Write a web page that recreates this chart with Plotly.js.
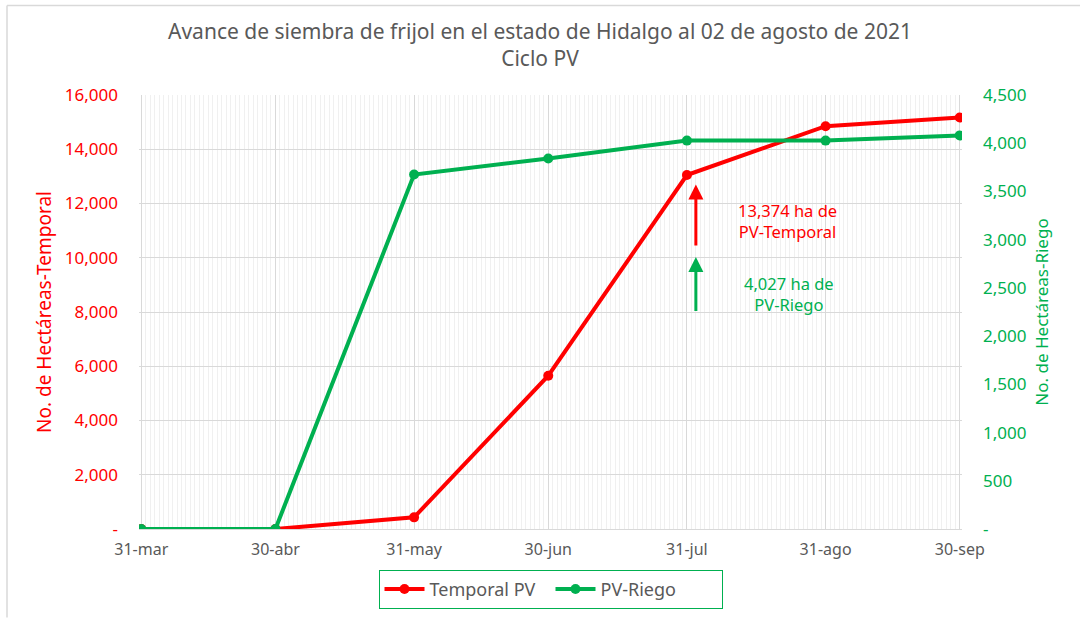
<!DOCTYPE html>
<html>
<head>
<meta charset="utf-8">
<script src="https://cdn.plot.ly/plotly-3.0.1.min.js"></script>
<style>
html,body{margin:0;padding:0;background:#fff;}
#chart{width:1080px;height:621px;}
</style>
</head>
<body>
<div id="chart"></div>
<script>
var dates = ['2021-03-31','2021-04-30','2021-05-31','2021-06-30','2021-07-31','2021-08-31','2021-09-30'];
var tickLabels = ['31-mar','30-abr','31-may','30-jun','31-jul','31-ago','30-sep'];
var temporal = [0, 0, 430, 5650, 13050, 14850, 15170];
var riego = [0, 0, 3676, 3841, 4027, 4027, 4081];
var leftTicks = [0,2000,4000,6000,8000,10000,12000,14000,16000];
var leftTickText = ['-','2,000','4,000','6,000','8,000','10,000','12,000','14,000','16,000'];
var rightTicks = [0,500,1000,1500,2000,2500,3000,3500,4000,4500];
var rightTickText = ['-','500','1,000','1,500','2,000','2,500','3,000','3,500','4,000','4,500'];
var annotDate = '2021-08-02';

var RED = '#FF0000', GREEN = '#00B050', GRAY = '#595959';
var FONT = 'Noto Sans, sans-serif';

var traces = [
  {x: dates, y: temporal, name: 'Temporal PV', type: 'scatter', mode: 'lines+markers',
   line: {color: RED, width: 4}, marker: {color: RED, size: 10}, yaxis: 'y'},
  {x: dates, y: riego, name: 'PV-Riego', type: 'scatter', mode: 'lines+markers',
   line: {color: GREEN, width: 4}, marker: {color: GREEN, size: 10}, yaxis: 'y2'}
];

var L = 139, R = 962, T = 95, B = 532;
function px(v){ return (v - L) / (R - L); }
function py(v){ return (B - v) / (B - T); }

var layout = {
  width: 1080, height: 621,
  margin: {l: L, r: 1080 - R, t: T, b: 621 - B},
  paper_bgcolor: '#fff', plot_bgcolor: '#fff',
  font: {family: FONT, color: GRAY},
  title: {text: 'Avance de siembra de frijol en el estado de Hidalgo al 02 de agosto de 2021<br>Ciclo PV',
          font: {family: FONT, size: 21, color: GRAY}, x: 0.5, xanchor: 'center', y: 0.937, yanchor: 'top'},
  xaxis: {type: 'date', range: ['2021-03-30 12:00', '2021-09-30 12:00'],
          tickmode: 'array', tickvals: dates, ticktext: tickLabels,
          showgrid: true, gridcolor: '#D9D9D9', gridwidth: 1,
          minor: {dtick: 86400000, showgrid: true, gridcolor: '#F0F0F0', gridwidth: 1},
          showline: true, linecolor: '#D9D9D9', linewidth: 1,
          ticks: '', ticklabelstandoff: 6,
          tickfont: {family: FONT, size: 16, color: GRAY}, zeroline: false, fixedrange: true},
  yaxis: {range: [0, 16000], tickmode: 'array', tickvals: leftTicks, ticktext: leftTickText,
          showgrid: true, gridcolor: '#D9D9D9', zeroline: false,
          ticks: '', ticklabelstandoff: 20,
          tickfont: {family: FONT, size: 17, color: RED},
          title: {text: 'No. de Hectáreas-Temporal', font: {family: FONT, size: 19, color: RED}, standoff: 8},
          showline: false},
  yaxis2: {range: [0, 4500], overlaying: 'y', side: 'right', tickmode: 'array',
           tickvals: rightTicks, ticktext: rightTickText, showgrid: false, zeroline: false,
           ticks: '', ticklabelstandoff: 20,
           tickfont: {family: FONT, size: 17, color: GREEN},
           title: {text: 'No. de Hectáreas-Riego', font: {family: FONT, size: 17, color: GREEN}, standoff: 10},
           showline: false},
  showlegend: true,
  legend: {orientation: 'h', x: 0.5, xanchor: 'center', y: py(573), yanchor: 'top',
           bordercolor: GREEN, borderwidth: 1, bgcolor: '#fff',
           font: {family: FONT, size: 18, color: GRAY}, itemwidth: 40, entrywidth: 116,
           traceorder: 'normal'},
  annotations: [
    {x: annotDate, y: 12700, xref: 'x', yref: 'y', ax: annotDate, ay: 10400, axref: 'x', ayref: 'y',
     text: '', showarrow: true, arrowhead: 2, arrowsize: 1, arrowwidth: 3, arrowcolor: RED},
    {x: annotDate, y: 2821, xref: 'x', yref: 'y2', ax: annotDate, ay: 2245, axref: 'x', ayref: 'y2',
     text: '', showarrow: true, arrowhead: 2, arrowsize: 1, arrowwidth: 3, arrowcolor: GREEN},
    {x: px(787), y: py(222), xref: 'paper', yref: 'paper', xanchor: 'center', yanchor: 'middle',
     text: '13,374 ha de<br>PV-Temporal', showarrow: false, align: 'center',
     font: {family: FONT, size: 16.5, color: RED}},
    {x: px(789), y: py(295), xref: 'paper', yref: 'paper', xanchor: 'center', yanchor: 'middle',
     text: '4,027 ha de<br>PV-Riego', showarrow: false, align: 'center',
     font: {family: FONT, size: 16.5, color: GREEN}}
  ],
  shapes: [
    {type: 'line', xref: 'paper', yref: 'paper', x0: px(7), x1: px(7), y0: py(5), y1: py(621), line: {color: '#D9D9D9', width: 1.5}},
    {type: 'line', xref: 'paper', yref: 'paper', x0: px(7), x1: px(1080), y0: py(5), y1: py(5), line: {color: '#D9D9D9', width: 1.5}}
  ]
};

Plotly.newPlot('chart', traces, layout, {displayModeBar: false, staticPlot: true});
</script>
</body>
</html>
